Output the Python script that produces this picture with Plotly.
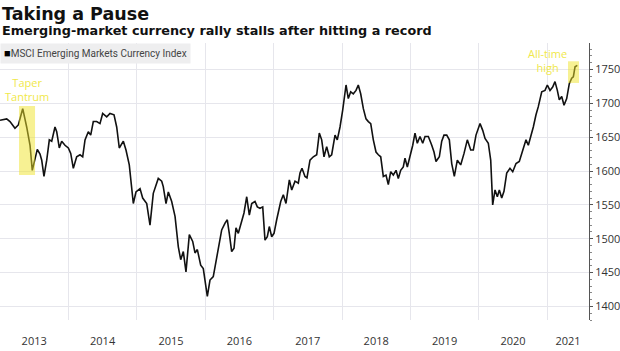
import plotly.graph_objects as go

# ---- data (decimal years, index level) ----
year_pos = [
    2013.000, 2013.098, 2013.146, 2013.219, 2013.268, 2013.332, 2013.390, 2013.439, 2013.472, 2013.512,
    2013.545, 2013.585, 2013.610, 2013.643, 2013.683, 2013.721, 2013.756, 2013.804, 2013.829, 2013.867,
    2013.902, 2013.950, 2013.999, 2014.034, 2014.072, 2014.121, 2014.170, 2014.209, 2014.243, 2014.291,
    2014.326, 2014.364, 2014.414, 2014.462, 2014.501, 2014.560, 2014.608, 2014.667, 2014.706, 2014.744,
    2014.803, 2014.842, 2014.890, 2014.949, 2014.988, 2015.047, 2015.086, 2015.145, 2015.193, 2015.241,
    2015.314, 2015.364, 2015.387, 2015.427, 2015.461, 2015.510, 2015.559, 2015.607, 2015.642, 2015.680,
    2015.719, 2015.768, 2015.817, 2015.851, 2015.885, 2015.934, 2015.972, 2016.031, 2016.070, 2016.118,
    2016.158, 2016.192, 2016.241, 2016.290, 2016.323, 2016.352, 2016.387, 2016.421, 2016.450, 2016.484,
    2016.534, 2016.567, 2016.607, 2016.645, 2016.680, 2016.728, 2016.762, 2016.801, 2016.841, 2016.874,
    2016.908, 2016.937, 2016.972, 2017.006, 2017.045, 2017.104, 2017.142, 2017.181, 2017.230, 2017.265,
    2017.313, 2017.361, 2017.386, 2017.415, 2017.459, 2017.488, 2017.532, 2017.581, 2017.630, 2017.668,
    2017.703, 2017.737, 2017.776, 2017.814, 2017.849, 2017.898, 2017.931, 2017.971, 2018.010, 2018.059,
    2018.092, 2018.127, 2018.165, 2018.205, 2018.238, 2018.273, 2018.312, 2018.351, 2018.385, 2018.420,
    2018.458, 2018.497, 2018.531, 2018.566, 2018.604, 2018.643, 2018.677, 2018.712, 2018.750, 2018.790,
    2018.823, 2018.858, 2018.896, 2018.921, 2018.955, 2018.994, 2019.034, 2019.067, 2019.101, 2019.140,
    2019.180, 2019.214, 2019.262, 2019.312, 2019.345, 2019.374, 2019.423, 2019.458, 2019.491, 2019.531,
    2019.569, 2019.604, 2019.642, 2019.686, 2019.735, 2019.784, 2019.832, 2019.882, 2019.920, 2019.959,
    2020.018, 2020.057, 2020.091, 2020.139, 2020.174, 2020.203, 2020.237, 2020.271, 2020.300, 2020.335,
    2020.368, 2020.408, 2020.456, 2020.496, 2020.544, 2020.592, 2020.642, 2020.690, 2020.724, 2020.759,
    2020.797, 2020.836, 2020.870, 2020.920, 2020.968, 2021.002, 2021.041, 2021.080, 2021.114, 2021.148,
    2021.177, 2021.212, 2021.246, 2021.285, 2021.323, 2021.358, 2021.382, 2021.407, 2021.440,
]
index_level = [
    1675, 1677, 1673, 1663, 1668, 1692, 1665, 1638, 1601, 1621,
    1632, 1625, 1616, 1592, 1616, 1646, 1644, 1665, 1658, 1634,
    1644, 1638, 1634, 1626, 1604, 1621, 1624, 1621, 1646, 1658,
    1653, 1673, 1673, 1670, 1685, 1680, 1685, 1683, 1665, 1634,
    1644, 1631, 1609, 1552, 1569, 1574, 1560, 1552, 1520, 1567,
    1589, 1585, 1577, 1552, 1569, 1555, 1533, 1488, 1469, 1481,
    1451, 1506, 1496, 1479, 1484, 1461, 1456, 1415, 1439, 1444,
    1466, 1488, 1513, 1523, 1528, 1508, 1481, 1486, 1516, 1508,
    1526, 1538, 1562, 1535, 1552, 1555, 1547, 1545, 1547, 1498,
    1503, 1518, 1503, 1508, 1528, 1555, 1565, 1552, 1587, 1572,
    1585, 1582, 1597, 1604, 1592, 1590, 1616, 1621, 1624, 1656,
    1646, 1621, 1636, 1621, 1624, 1653, 1646, 1665, 1690, 1727,
    1707, 1717, 1714, 1719, 1727, 1714, 1692, 1677, 1673, 1670,
    1646, 1628, 1624, 1621, 1592, 1594, 1580, 1599, 1594, 1601,
    1589, 1601, 1606, 1619, 1606, 1621, 1638, 1656, 1641, 1651,
    1641, 1651, 1651, 1638, 1628, 1614, 1621, 1644, 1653, 1653,
    1646, 1611, 1592, 1616, 1609, 1626, 1646, 1631, 1631, 1653,
    1670, 1660, 1648, 1641, 1616, 1550, 1572, 1562, 1572, 1560,
    1570, 1597, 1604, 1599, 1611, 1614, 1631, 1646, 1638, 1650,
    1665, 1683, 1695, 1717, 1719, 1727, 1719, 1724, 1732, 1719,
    1705, 1710, 1697, 1707, 1729, 1737, 1739, 1754, 1756,
]

year_labels = ["2013", "2014", "2015", "2016", "2017", "2018", "2019", "2020", "2021"]
year_label_pos = [2013.5, 2014.5, 2015.5, 2016.5, 2017.5, 2018.5, 2019.5, 2020.5, 2021.305]
year_bounds = [2014, 2015, 2016, 2017, 2018, 2019, 2020, 2021]
y_ticks = [1400, 1450, 1500, 1550, 1600, 1650, 1700, 1750]

series_name = "MSCI Emerging Markets Currency Index"
title_text = "Taking a Pause"
subtitle_text = "Emerging-market currency rally stalls after hitting a record"

taper_box = dict(x0=2013.278, x1=2013.512, y0=1594, y1=1696)
ath_box = dict(x0=2021.304, x1=2021.465, y0=1730, y1=1762)

x_range = [2013.0, 2021.611]
y_range = [1380, 1789]

grid_c = "#e6e6ec"
yellow_fill = "rgba(240,228,40,0.50)"
yellow_text = "#f0e84a"

fig = go.Figure()
fig.add_trace(go.Scatter(
    x=year_pos, y=index_level, mode="lines", name=series_name,
    line=dict(color="#111111", width=1.6), showlegend=False, hoverinfo="skip",
))

for b in (taper_box, ath_box):
    fig.add_shape(type="rect", xref="x", yref="y", layer="above",
                  fillcolor=yellow_fill, line=dict(width=0), **b)

fig.add_annotation(x=2013.40, y=1720, xref="x", yref="y",
                   text="Taper<br>Tantrum", showarrow=False,
                   font=dict(family="Open Sans", size=11, color=yellow_text))
fig.add_annotation(x=2020.997, y=1763, xref="x", yref="y",
                   text="All-time<br>high", showarrow=False,
                   font=dict(family="Open Sans", size=11, color=yellow_text))

fig.add_annotation(x=0, y=1.106, xref="paper", yref="paper", xanchor="left", yanchor="middle",
                   text=title_text, showarrow=False,
                   font=dict(family="DejaVu Sans", size=17.5, color="#111111", weight="bold"))
fig.add_annotation(x=0, y=1.045, xref="paper", yref="paper", xanchor="left", yanchor="middle",
                   text=subtitle_text, showarrow=False,
                   font=dict(family="DejaVu Sans", size=12.8, color="#111111", weight="bold"))
fig.add_annotation(x=0, y=0.962, xref="paper", yref="paper", xanchor="left", yanchor="middle",
                   text="<span style='font-size:11px;color:#000'>■</span>" + series_name, showarrow=False,
                   bgcolor="#eeeeef", borderpad=3,
                   font=dict(family="Roboto", size=10, color="#444444"))

fig.update_layout(
    width=620, height=351,
    margin=dict(l=0, r=31, t=43, b=31),
    paper_bgcolor="white", plot_bgcolor="white",
    xaxis=dict(
        range=x_range, tickmode="array", tickvals=year_label_pos, ticktext=year_labels,
        showgrid=False, zeroline=False, showline=False,
        ticks="outside", ticklen=11, tickcolor="rgba(0,0,0,0)",
        tickfont=dict(family="Open Sans", size=11, color="#333333"),
        minor=dict(tickmode="array", tickvals=year_bounds, showgrid=True,
                   gridcolor=grid_c, gridwidth=1, ticks=""),
    ),
    yaxis=dict(
        range=y_range, side="right", tickmode="array", tickvals=y_ticks,
        showgrid=True, gridcolor=grid_c, gridwidth=1, zeroline=False,
        showline=True, linecolor="#555555", linewidth=1,
        ticks="outside", ticklen=3, tickcolor="#555555",
        tickfont=dict(family="Open Sans", size=11, color="#333333"),
        minor=dict(tick0=1400, dtick=10, ticks="outside", ticklen=2,
                   tickcolor="#888888", showgrid=False),
    ),
)

fig.write_html("out.html")
